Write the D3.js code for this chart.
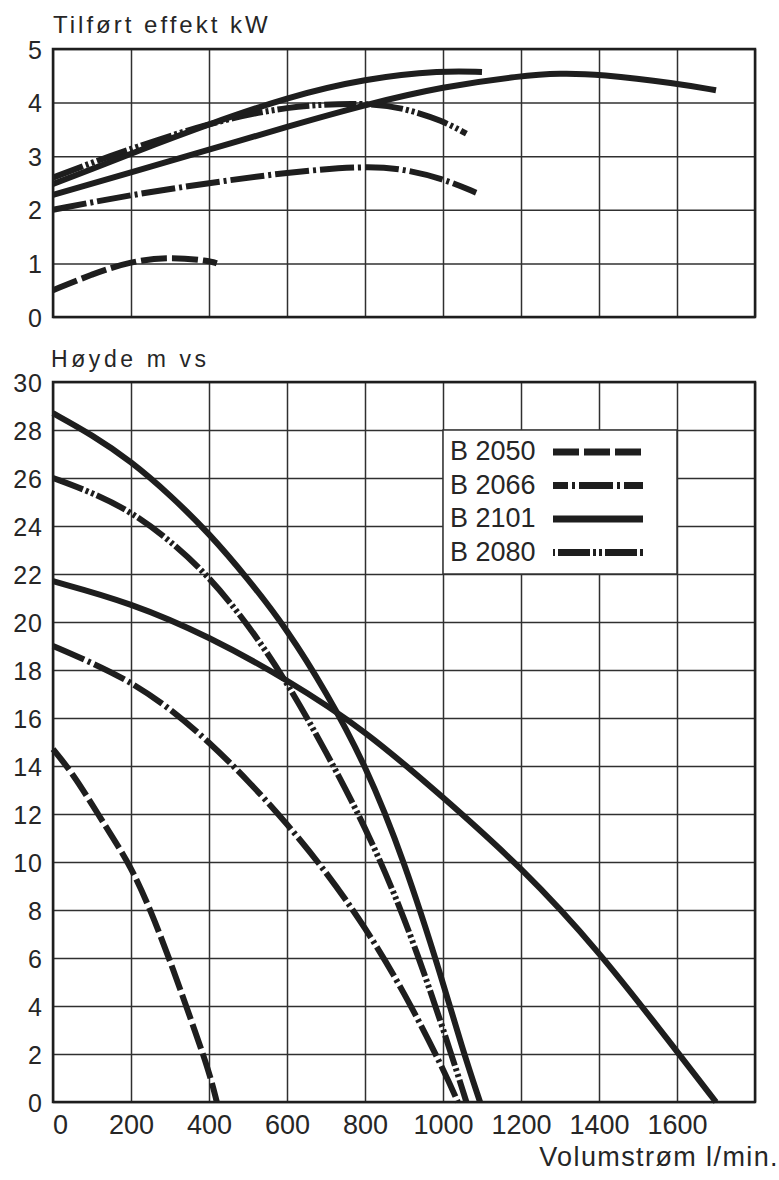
<!DOCTYPE html>
<html>
<head>
<meta charset="utf-8">
<script src="https://cdn.jsdelivr.net/npm/d3@7"></script>
<style>
body { margin: 0; background: #fff; }
svg text { font-family: "Liberation Sans", Arial, sans-serif; fill: #262626; }
</style>
</head>
<body>
<svg id="chart" width="779" height="1180"></svg>
<script>
'use strict';
// axis values
const flowGrid = [0, 200, 400, 600, 800, 1000, 1200, 1400, 1600, 1800];
const flowLabels = [0, 200, 400, 600, 800, 1000, 1200, 1400, 1600];
const powerTicks = [0, 1, 2, 3, 4, 5];
const headTicks = [0, 2, 4, 6, 8, 10, 12, 14, 16, 18, 20, 22, 24, 26, 28, 30];
const legendNames = ["B 2050", "B 2066", "B 2101", "B 2080"];

// power curves, [l/min, kW]
const powerB2050 = [[0, 0.5], [100, 0.8], [200, 1.04], [300, 1.12], [400, 1.05], [420, 1.0]];
const powerB2066 = [[0, 2.0], [200, 2.28], [400, 2.5], [600, 2.7], [800, 2.82], [900, 2.76], [1000, 2.58], [1085, 2.32]];
const powerB2080 = [[0, 2.6], [100, 2.88], [200, 3.14], [400, 3.62], [600, 3.94], [800, 4.0], [900, 3.9], [1000, 3.66], [1060, 3.42]];
const powerB2101a = [[0, 2.48], [100, 2.76], [200, 3.05], [400, 3.6], [600, 4.1], [800, 4.45], [1000, 4.6], [1100, 4.57]];
const powerB2101b = [[0, 2.28], [200, 2.7], [400, 3.12], [600, 3.55], [800, 3.96], [1000, 4.3], [1200, 4.5], [1300, 4.55], [1400, 4.53], [1600, 4.36], [1700, 4.23]];

// head curves, [l/min, m]
const headB2050 = [[0, 14.7], [50, 13.7], [100, 12.4], [150, 11.1], [200, 9.8], [250, 8.0], [300, 5.9], [350, 3.6], [400, 1.3], [420, 0]];
const headB2066 = [[0, 19.0], [100, 18.3], [200, 17.5], [300, 16.4], [400, 15.0], [500, 13.4], [600, 11.6], [700, 9.6], [800, 7.3], [900, 4.6], [1000, 1.4], [1038, 0]];
const headB2080 = [[0, 26.0], [100, 25.4], [200, 24.6], [300, 23.4], [400, 21.9], [500, 19.9], [600, 17.5], [700, 14.6], [800, 11.5], [900, 7.8], [1000, 3.1], [1060, 0]];
const headB2101a = [[0, 28.7], [100, 27.8], [200, 26.7], [300, 25.3], [400, 23.7], [500, 21.8], [600, 19.7], [700, 17.1], [800, 14.1], [900, 10.1], [1000, 5.0], [1050, 2.2], [1095, 0]];
const headB2101b = [[0, 21.7], [200, 20.8], [400, 19.4], [600, 17.6], [800, 15.5], [1000, 12.7], [1200, 9.8], [1400, 6.3], [1600, 2.1], [1700, 0]];

// line styles per pump
const dashes = {
	"B 2050": "26,5",
	"B 2066": "34,4,3,4",
	"B 2101": null,
	"B 2080": "32,3,3,3,3,3"
};
const ink = "#1e1e1e";
const gridInk = "#303030";

const svg = d3.select("#chart");
const left = 53, right = 755;

const x = d3.scaleLinear().domain([0, 1800]).range([left, right]);
const yPower = d3.scaleLinear().domain([0, 5]).range([317, 49]);
const yHead = d3.scaleLinear().domain([0, 30]).range([1102, 382]);

const drawPanel = (y, ticks) => {
	const [bottom, top] = y.range();
	// vertical grid
	svg.append("g")
		.attr("transform", `translate(0,${bottom})`)
		.call(d3.axisBottom(x).tickValues(flowGrid).tickSize(-(bottom - top)).tickFormat(""))
		.call(g => g.select(".domain").remove())
		.selectAll("line").attr("stroke", gridInk).attr("stroke-width", 1.5);
	// horizontal grid
	svg.append("g")
		.attr("transform", `translate(${left},0)`)
		.call(d3.axisLeft(y).tickValues(ticks).tickSize(-(right - left)).tickFormat(""))
		.call(g => g.select(".domain").remove())
		.selectAll("line").attr("stroke", gridInk).attr("stroke-width", 1.5);
	// frame
	svg.append("rect")
		.attr("x", left).attr("y", top)
		.attr("width", right - left).attr("height", bottom - top)
		.attr("fill", "none").attr("stroke", ink).attr("stroke-width", 2.5);
	// value labels
	svg.append("g")
		.attr("transform", `translate(${left},0)`)
		.call(d3.axisLeft(y).tickValues(ticks).tickSize(0).tickPadding(10).tickFormat(d3.format("d")))
		.call(g => g.select(".domain").remove())
		.selectAll("text")
		.attr("font-size", 25)
		.attr("font-family", null)
		.attr("fill", null)
		.attr("letter-spacing", 1)
		.attr("dy", "0.36em");
};

const drawCurves = (y, curves) => {
	// basis spline smooths the hand-read points, ends stay exact
	const line = d3.line()
		.x(d => x(d[0]))
		.y(d => y(d[1]))
		.curve(d3.curveBasis);
	svg.append("g").selectAll("path")
		.data(curves)
		.join("path")
		.attr("d", d => line(d.points))
		.attr("fill", "none")
		.attr("stroke", ink)
		.attr("stroke-width", 6)
		.attr("stroke-dasharray", d => dashes[d.name]);
};

// top panel: power
drawPanel(yPower, powerTicks);
drawCurves(yPower, [
	{ name: "B 2050", points: powerB2050 },
	{ name: "B 2066", points: powerB2066 },
	{ name: "B 2080", points: powerB2080 },
	{ name: "B 2101", points: powerB2101a },
	{ name: "B 2101", points: powerB2101b }
]);

svg.append("text")
	.attr("x", 53).attr("y", 33)
	.attr("font-size", 24)
	.attr("letter-spacing", 3)
	.text("Tilført effekt kW");

// bottom panel: head
drawPanel(yHead, headTicks);
drawCurves(yHead, [
	{ name: "B 2050", points: headB2050 },
	{ name: "B 2066", points: headB2066 },
	{ name: "B 2080", points: headB2080 },
	{ name: "B 2101", points: headB2101a },
	{ name: "B 2101", points: headB2101b }
]);

svg.append("text")
	.attr("x", 51).attr("y", 367)
	.attr("font-size", 23)
	.attr("letter-spacing", 3.6)
	.text("Høyde m vs");

// flow labels
svg.append("g")
	.attr("transform", `translate(0,${yHead(0)})`)
	.call(d3.axisBottom(x).tickValues(flowLabels).tickSize(0).tickPadding(13).tickFormat(d3.format("d")))
	.call(g => g.select(".domain").remove())
	.selectAll("text")
	.attr("font-size", 27)
	.attr("font-family", null)
	.attr("fill", null)
	.attr("dx", d => d == 0 ? 7 : 0);

svg.append("text")
	.attr("x", 779).attr("y", 1166)
	.attr("text-anchor", "end")
	.attr("font-size", 27)
	.attr("letter-spacing", 1.4)
	.text("Volumstrøm l/min.");

// legend box covers the grid between 1000-1600 and 22-28
const legend = svg.append("g");
legend.append("rect")
	.attr("x", x(1000)).attr("y", yHead(28))
	.attr("width", x(1600) - x(1000)).attr("height", yHead(22) - yHead(28))
	.attr("fill", "#fff").attr("stroke", gridInk).attr("stroke-width", 1.5);

const legendOffsets = { "B 2050": 0, "B 2066": 19, "B 2101": 0, "B 2080": 42 };
const item = legend.selectAll("g.item")
	.data(legendNames)
	.join("g")
	.attr("class", "item")
	.attr("transform", (d, i) => `translate(450,${460 + i * 33.5})`);
item.append("text")
	.attr("font-size", 27)
	.text(d => d);
item.append("line")
	.attr("x1", 103).attr("x2", 193)
	.attr("y1", -8).attr("y2", -8)
	.attr("stroke", ink)
	.attr("stroke-width", 7)
	.attr("stroke-dasharray", d => dashes[d])
	.attr("stroke-dashoffset", d => legendOffsets[d]);
</script>
</body>
</html>
